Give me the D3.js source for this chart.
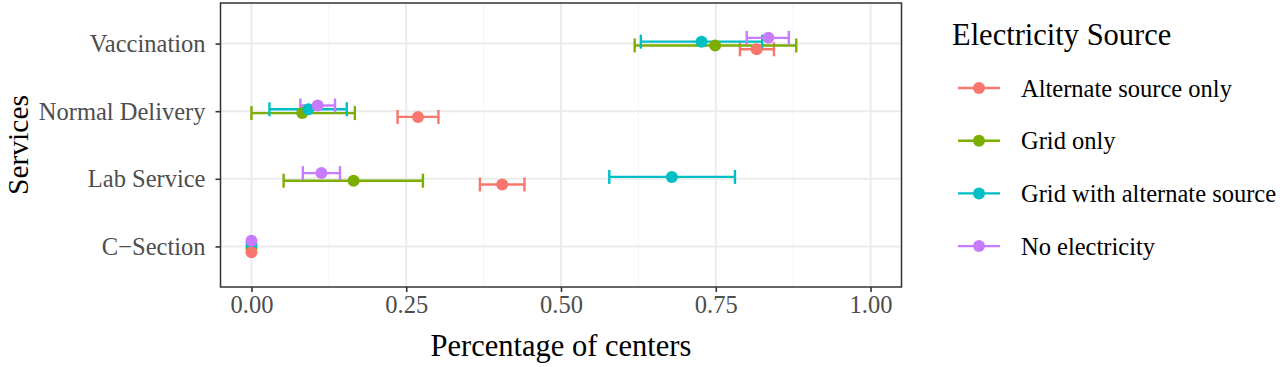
<!DOCTYPE html>
<html>
<head>
<meta charset="utf-8">
<script src="https://cdn.jsdelivr.net/npm/d3@7"></script>
<style>
  body { margin: 0; background: #fff; }
  text { font-family: "Liberation Serif", "DejaVu Serif", serif; }
</style>
</head>
<body>
<svg id="chart" width="1280" height="367"></svg>
<script>

const services = ["Vaccination", "Normal Delivery", "Lab Service", "C\u2212Section"];
const sources = ["Alternate source only", "Grid only", "Grid with alternate source", "No electricity"];
const colors = ["#F8766D", "#7CAE00", "#00BFC4", "#C77CFF"];
const xTicks = [0, 0.25, 0.5, 0.75, 1];
const xMinor = [0.125, 0.375, 0.625, 0.875];

// per source: mean, lower, upper  (order follows services)
const altMean = [0.816, 0.269, 0.405, 0];
const altLow  = [0.789, 0.236, 0.369, 0];
const altHigh = [0.844, 0.302, 0.441, 0];

const gridMean = [0.749, 0.082, 0.165, 0];
const gridLow  = [0.619, 0.000, 0.052, 0];
const gridHigh = [0.880, 0.167, 0.277, 0];

const bothMean = [0.727, 0.092, 0.679, 0];
const bothLow  = [0.629, 0.029, 0.578, 0];
const bothHigh = [0.825, 0.154, 0.781, 0];

const noneMean = [0.835, 0.107, 0.113, 0];
const noneLow  = [0.800, 0.079, 0.083, 0];
const noneHigh = [0.868, 0.135, 0.143, 0];

const means = [altMean, gridMean, bothMean, noneMean];
const lows = [altLow, gridLow, bothLow, noneLow];
const highs = [altHigh, gridHigh, bothHigh, noneHigh];

let rows = [];
sources.forEach((s, i) => {
  services.forEach((sv, j) => {
    rows.push({source: s, service: sv, mean: means[i][j], lo: lows[i][j], hi: highs[i][j], hasBar: means[i][j] > 0});
  });
});

const svg = d3.select("#chart");
const panel = {left: 220.5, right: 901.5, top: 3, bottom: 287};

const x = d3.scaleLinear().domain([-0.05, 1.05]).range([panel.left, panel.right]);
const y = d3.scalePoint().domain(services).range([panel.top, panel.bottom]).padding(0.6);
const dodgeW = y.step() * 0.225;
const dodge = d3.scaleBand().domain(sources).range([dodgeW / 2, -dodgeW / 2]);
const color = d3.scaleOrdinal().domain(sources).range(colors);

function yOf(d) {
  // band start + half width, works with reversed range too
  return y(d.service) + dodge(d.source) + dodge.bandwidth() / 2;
}

// grid
const g = svg.append("g");
g.selectAll(".minor").data(xMinor).enter().append("line")
  .attr("x1", d => x(d)).attr("x2", d => x(d))
  .attr("y1", panel.top).attr("y2", panel.bottom)
  .attr("stroke", "#F4F4F4").attr("stroke-width", 1);
g.selectAll(".major").data(xTicks).enter().append("line")
  .attr("x1", d => x(d)).attr("x2", d => x(d))
  .attr("y1", panel.top).attr("y2", panel.bottom)
  .attr("stroke", "#EBEBEB").attr("stroke-width", 2);
g.selectAll(".hmajor").data(services).enter().append("line")
  .attr("x1", panel.left).attr("x2", panel.right)
  .attr("y1", d => y(d)).attr("y2", d => y(d))
  .attr("stroke", "#EBEBEB").attr("stroke-width", 2);

// error bars
const capH = 14;
const bars = svg.append("g").selectAll("g").data(rows.filter(d => d.hasBar)).enter().append("g")
  .attr("stroke", d => color(d.source)).attr("stroke-width", 2.4).attr("fill", "none");
bars.append("line")
  .attr("x1", d => x(d.lo)).attr("x2", d => x(d.hi))
  .attr("y1", yOf).attr("y2", yOf);
bars.append("line")
  .attr("x1", d => x(d.lo)).attr("x2", d => x(d.lo))
  .attr("y1", d => yOf(d) - capH / 2).attr("y2", d => yOf(d) + capH / 2);
bars.append("line")
  .attr("x1", d => x(d.hi)).attr("x2", d => x(d.hi))
  .attr("y1", d => yOf(d) - capH / 2).attr("y2", d => yOf(d) + capH / 2);

// points, drawn so that the outer groups sit on top
const drawOrder = ["Grid only", "Grid with alternate source", "Alternate source only", "No electricity"];
const pts = rows.slice().sort((a, b) => drawOrder.indexOf(a.source) - drawOrder.indexOf(b.source));
svg.append("g").selectAll("circle").data(pts).enter().append("circle")
  .attr("cx", d => x(d.mean)).attr("cy", yOf).attr("r", 6)
  .attr("fill", d => color(d.source));

// panel border
svg.append("rect")
  .attr("x", panel.left).attr("y", panel.top)
  .attr("width", panel.right - panel.left).attr("height", panel.bottom - panel.top)
  .attr("fill", "none").attr("stroke", "#333333").attr("stroke-width", 1.5);

// axes
const xAxis = svg.append("g").attr("transform", `translate(0,${panel.bottom})`)
  .call(d3.axisBottom(x).tickValues(xTicks).tickFormat(d3.format(".2f")).tickSize(5).tickPadding(4));
const yAxis = svg.append("g").attr("transform", `translate(${panel.left},0)`)
  .call(d3.axisLeft(y).tickSize(5).tickPadding(10));
[xAxis, yAxis].forEach(a => {
  a.select(".domain").remove();
  a.selectAll(".tick line").attr("stroke", "#333333").attr("stroke-width", 1.6);
  a.selectAll(".tick text").attr("fill", "#4D4D4D").style("font-size", "24.5px")
    .style("font-family", "'Liberation Serif', serif");
});

svg.append("text")
  .attr("x", (panel.left + panel.right) / 2).attr("y", 356)
  .attr("text-anchor", "middle").style("font-size", "30.5px").attr("fill", "#000")
  .text("Percentage of centers");
svg.append("text")
  .attr("transform", `translate(28,${(panel.top + panel.bottom) / 2}) rotate(-90)`)
  .attr("text-anchor", "middle").style("font-size", "29.5px").attr("fill", "#000")
  .text("Services");

// legend
const legend = svg.append("g");
legend.append("text").attr("x", 952).attr("y", 45).style("font-size", "30.5px").text("Electricity Source");
const item = legend.selectAll(".item").data(sources).enter().append("g")
  .attr("transform", (d, i) => `translate(0,${88 + i * 52.7})`);
item.append("line").attr("x1", 958).attr("x2", 1000).attr("y1", 0).attr("y2", 0)
  .attr("stroke", d => color(d)).attr("stroke-width", 2.4);
item.append("circle").attr("cx", 979).attr("cy", 0).attr("r", 6).attr("fill", d => color(d));
item.append("text").attr("x", 1021).attr("y", 0).attr("dy", "0.35em")
  .style("font-size", "24.5px").text(d => d);

</script>
</body>
</html>
